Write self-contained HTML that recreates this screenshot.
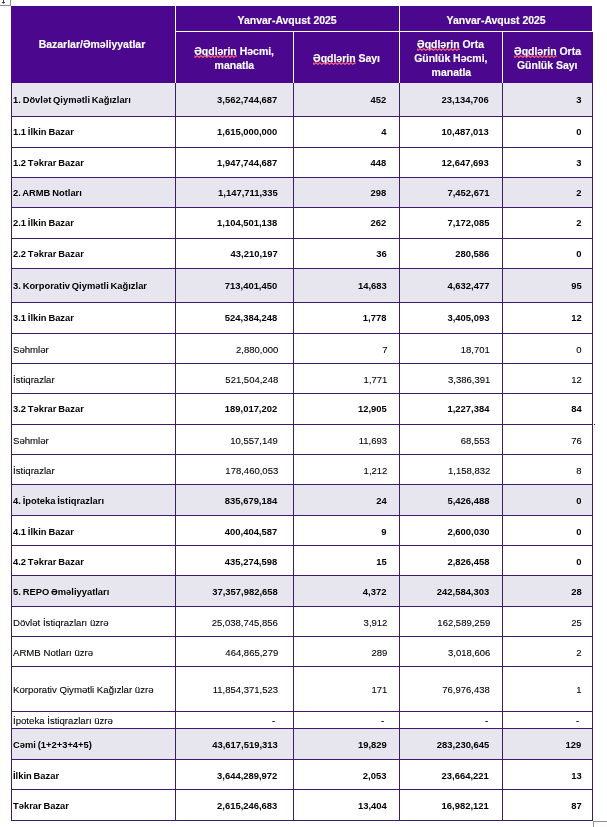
<!DOCTYPE html>
<html lang="az"><head><meta charset="utf-8"><title>Table</title><style>
html,body{margin:0;padding:0;background:#fff;}
body{will-change:transform;width:607px;height:827px;position:relative;overflow:hidden;font-family:"Liberation Sans",sans-serif;color:#000;}
.a{position:absolute;}
.hd{position:absolute;background:#4b088f;}
.sh{position:absolute;background:#e7e5ee;}
.hl{position:absolute;height:1px;background:#3d1a6b;}
.vl{position:absolute;width:1px;background:#3d1a6b;}
.t{position:absolute;white-space:nowrap;}
.t span{display:inline-block;}
.b{font-weight:bold;font-size:9.75px;}
.n{font-weight:normal;font-size:9.75px;-webkit-text-stroke:0.1px #000;}
.l span{transform-origin:0 50%;}
.r{text-align:right;}
.r span{transform-origin:100% 50%;}
.b.l span{transform:scaleX(0.96);word-spacing:-0.8px;}
.b.r span{transform:scaleX(0.967);}
.n.l span{transform:scaleX(0.986);}
.n.r span{transform:scaleX(0.975);}
.h{position:absolute;color:#fff;-webkit-text-stroke:0.15px #fff;font-weight:bold;font-size:10.8px;text-align:center;white-space:nowrap;}
.h>span{display:inline-block;transform:scaleX(0.97);transform-origin:50% 50%;}
.sq{position:relative;display:inline-block;}
.sq svg{position:absolute;left:0;top:11.2px;width:100%;height:3px;overflow:hidden;}
</style></head><body>
<div class="a" style="left:0;top:0;width:10px;height:5px;border-right:1px solid #8f8f8f;border-bottom:1px solid #8f8f8f;background:#fdfdfd"></div>
<div class="a" style="left:3px;top:0;width:1px;height:3px;background:#444"></div>
<div class="a" style="left:2px;top:2px;width:3px;height:1px;background:#444"></div>
<div class="a" style="left:3px;top:3px;width:1px;height:1px;background:#777"></div>
<div class="a" style="left:593px;top:821px;width:14px;height:6px;border-left:1px solid #8f8f8f;border-top:1px solid #8f8f8f;background:#fdfdfd"></div>
<div class="a" style="left:594px;top:424px;width:1px;height:1px;background:#111"></div>
<div class="hd" style="left:11px;top:6px;width:582px;height:77px"></div>
<div class="a" style="left:175px;top:6px;width:1px;height:77px;background:#ffffff"></div>
<div class="a" style="left:399px;top:6px;width:1px;height:77px;background:#ffffff"></div>
<div class="a" style="left:293px;top:31px;width:1px;height:52px;background:#ffffff"></div>
<div class="a" style="left:502px;top:31px;width:1px;height:52px;background:#ffffff"></div>
<div class="a" style="left:175px;top:31px;width:418px;height:1px;background:#ffffff"></div>
<div class="a" style="left:592px;top:6px;width:1px;height:26px;background:#ffffff"></div>
<div class="sh" style="left:11px;top:83px;width:581px;height:33px"></div>
<div class="sh" style="left:11px;top:178px;width:581px;height:29px"></div>
<div class="sh" style="left:11px;top:269px;width:581px;height:33px"></div>
<div class="sh" style="left:11px;top:485px;width:581px;height:30px"></div>
<div class="sh" style="left:11px;top:576px;width:581px;height:30px"></div>
<div class="sh" style="left:11px;top:729px;width:581px;height:30px"></div>
<div class="hl" style="left:11px;top:116px;width:582px"></div>
<div class="hl" style="left:11px;top:147px;width:582px"></div>
<div class="hl" style="left:11px;top:177px;width:582px"></div>
<div class="hl" style="left:11px;top:207px;width:582px"></div>
<div class="hl" style="left:11px;top:238px;width:582px"></div>
<div class="hl" style="left:11px;top:268px;width:582px"></div>
<div class="hl" style="left:11px;top:302px;width:582px"></div>
<div class="hl" style="left:11px;top:333px;width:582px"></div>
<div class="hl" style="left:11px;top:363px;width:582px"></div>
<div class="hl" style="left:11px;top:393px;width:582px"></div>
<div class="hl" style="left:11px;top:424px;width:582px"></div>
<div class="hl" style="left:11px;top:454px;width:582px"></div>
<div class="hl" style="left:11px;top:484px;width:582px"></div>
<div class="hl" style="left:11px;top:515px;width:582px"></div>
<div class="hl" style="left:11px;top:545px;width:582px"></div>
<div class="hl" style="left:11px;top:575px;width:582px"></div>
<div class="hl" style="left:11px;top:606px;width:582px"></div>
<div class="hl" style="left:11px;top:636px;width:582px"></div>
<div class="hl" style="left:11px;top:666px;width:582px"></div>
<div class="hl" style="left:11px;top:711px;width:582px"></div>
<div class="hl" style="left:11px;top:728px;width:582px"></div>
<div class="hl" style="left:11px;top:759px;width:582px"></div>
<div class="hl" style="left:11px;top:789px;width:582px"></div>
<div class="hl" style="left:11px;top:820px;width:582px"></div>
<div class="vl" style="left:11px;top:83px;height:738px"></div>
<div class="vl" style="left:175px;top:83px;height:738px"></div>
<div class="vl" style="left:293px;top:83px;height:738px"></div>
<div class="vl" style="left:399px;top:83px;height:738px"></div>
<div class="vl" style="left:502px;top:83px;height:738px"></div>
<div class="vl" style="left:592px;top:83px;height:738px"></div>
<div class="h" style="left:8.2px;width:167.8px;top:37.30px;height:14px;line-height:14px"><span>Bazarlar/Əməliyyatlar</span></div>
<div class="h" style="left:175px;width:225px;top:12.90px;height:14px;line-height:14px"><span>Yanvar-Avqust 2025</span></div>
<div class="h" style="left:399px;width:194px;top:12.90px;height:14px;line-height:14px"><span>Yanvar-Avqust 2025</span></div>
<div class="h" style="left:175px;width:119px;top:43.60px;height:14px;line-height:14px"><span><span class="sq">Əqdlərin<svg viewBox="0 0 60 3" preserveAspectRatio="xMinYMin slice"><path d="M0 0.5 L1 2.5 L3 0.5 L5 2.5 L7 0.5 L9 2.5 L11 0.5 L13 2.5 L15 0.5 L17 2.5 L19 0.5 L21 2.5 L23 0.5 L25 2.5 L27 0.5 L29 2.5 L31 0.5 L33 2.5 L35 0.5 L37 2.5 L39 0.5 L41 2.5 L43 0.5 L45 2.5 L47 0.5 L49 2.5 L51 0.5 L53 2.5 L55 0.5 L57 2.5 L59 0.5" fill="none" stroke="#f2607e" stroke-width="1.15"/></svg></span> Həcmi,</span></div>
<div class="h" style="left:175px;width:119px;top:57.60px;height:14px;line-height:14px"><span>manatla</span></div>
<div class="h" style="left:293px;width:107px;top:50.60px;height:14px;line-height:14px"><span><span class="sq">Əqdlərin<svg viewBox="0 0 60 3" preserveAspectRatio="xMinYMin slice"><path d="M0 0.5 L1 2.5 L3 0.5 L5 2.5 L7 0.5 L9 2.5 L11 0.5 L13 2.5 L15 0.5 L17 2.5 L19 0.5 L21 2.5 L23 0.5 L25 2.5 L27 0.5 L29 2.5 L31 0.5 L33 2.5 L35 0.5 L37 2.5 L39 0.5 L41 2.5 L43 0.5 L45 2.5 L47 0.5 L49 2.5 L51 0.5 L53 2.5 L55 0.5 L57 2.5 L59 0.5" fill="none" stroke="#f2607e" stroke-width="1.15"/></svg></span> Sayı</span></div>
<div class="h" style="left:399px;width:104px;top:36.60px;height:14px;line-height:14px"><span><span class="sq">Əqdlərin<svg viewBox="0 0 60 3" preserveAspectRatio="xMinYMin slice"><path d="M0 0.5 L1 2.5 L3 0.5 L5 2.5 L7 0.5 L9 2.5 L11 0.5 L13 2.5 L15 0.5 L17 2.5 L19 0.5 L21 2.5 L23 0.5 L25 2.5 L27 0.5 L29 2.5 L31 0.5 L33 2.5 L35 0.5 L37 2.5 L39 0.5 L41 2.5 L43 0.5 L45 2.5 L47 0.5 L49 2.5 L51 0.5 L53 2.5 L55 0.5 L57 2.5 L59 0.5" fill="none" stroke="#f2607e" stroke-width="1.15"/></svg></span> Orta</span></div>
<div class="h" style="left:399px;width:104px;top:50.60px;height:14px;line-height:14px"><span>Günlük Həcmi,</span></div>
<div class="h" style="left:399px;width:104px;top:64.60px;height:14px;line-height:14px"><span>manatla</span></div>
<div class="h" style="left:502px;width:91px;top:43.60px;height:14px;line-height:14px"><span><span class="sq">Əqdlərin<svg viewBox="0 0 60 3" preserveAspectRatio="xMinYMin slice"><path d="M0 0.5 L1 2.5 L3 0.5 L5 2.5 L7 0.5 L9 2.5 L11 0.5 L13 2.5 L15 0.5 L17 2.5 L19 0.5 L21 2.5 L23 0.5 L25 2.5 L27 0.5 L29 2.5 L31 0.5 L33 2.5 L35 0.5 L37 2.5 L39 0.5 L41 2.5 L43 0.5 L45 2.5 L47 0.5 L49 2.5 L51 0.5 L53 2.5 L55 0.5 L57 2.5 L59 0.5" fill="none" stroke="#f2607e" stroke-width="1.15"/></svg></span> Orta</span></div>
<div class="h" style="left:502px;width:91px;top:57.60px;height:14px;line-height:14px"><span>Günlük Sayı</span></div>
<div class="t b l" style="left:13.3px;top:83px;height:33px;line-height:33px"><span>1. Dövlət Qiymətli Kağızları</span></div>
<div class="t b r" style="left:175px;width:102.50px;top:83px;height:33px;line-height:33px"><span>3,562,744,687</span></div>
<div class="t b r" style="left:293px;width:93.60px;top:83px;height:33px;line-height:33px"><span>452</span></div>
<div class="t b r" style="left:399px;width:90.30px;top:83px;height:33px;line-height:33px"><span>23,134,706</span></div>
<div class="t b r" style="left:502px;width:79.60px;top:83px;height:33px;line-height:33px"><span>3</span></div>
<div class="t b l" style="left:13.3px;top:117px;height:30px;line-height:30px"><span>1.1 İlkin Bazar</span></div>
<div class="t b r" style="left:175px;width:102.50px;top:117px;height:30px;line-height:30px"><span>1,615,000,000</span></div>
<div class="t b r" style="left:293px;width:93.60px;top:117px;height:30px;line-height:30px"><span>4</span></div>
<div class="t b r" style="left:399px;width:90.30px;top:117px;height:30px;line-height:30px"><span>10,487,013</span></div>
<div class="t b r" style="left:502px;width:79.60px;top:117px;height:30px;line-height:30px"><span>0</span></div>
<div class="t b l" style="left:13.3px;top:148px;height:29px;line-height:29px"><span>1.2 Təkrar Bazar</span></div>
<div class="t b r" style="left:175px;width:102.50px;top:148px;height:29px;line-height:29px"><span>1,947,744,687</span></div>
<div class="t b r" style="left:293px;width:93.60px;top:148px;height:29px;line-height:29px"><span>448</span></div>
<div class="t b r" style="left:399px;width:90.30px;top:148px;height:29px;line-height:29px"><span>12,647,693</span></div>
<div class="t b r" style="left:502px;width:79.60px;top:148px;height:29px;line-height:29px"><span>3</span></div>
<div class="t b l" style="left:13.3px;top:178px;height:29px;line-height:29px"><span>2. ARMB Notları</span></div>
<div class="t b r" style="left:175px;width:102.50px;top:178px;height:29px;line-height:29px"><span>1,147,711,335</span></div>
<div class="t b r" style="left:293px;width:93.60px;top:178px;height:29px;line-height:29px"><span>298</span></div>
<div class="t b r" style="left:399px;width:90.30px;top:178px;height:29px;line-height:29px"><span>7,452,671</span></div>
<div class="t b r" style="left:502px;width:79.60px;top:178px;height:29px;line-height:29px"><span>2</span></div>
<div class="t b l" style="left:13.3px;top:208px;height:30px;line-height:30px"><span>2.1 İlkin Bazar</span></div>
<div class="t b r" style="left:175px;width:102.50px;top:208px;height:30px;line-height:30px"><span>1,104,501,138</span></div>
<div class="t b r" style="left:293px;width:93.60px;top:208px;height:30px;line-height:30px"><span>262</span></div>
<div class="t b r" style="left:399px;width:90.30px;top:208px;height:30px;line-height:30px"><span>7,172,085</span></div>
<div class="t b r" style="left:502px;width:79.60px;top:208px;height:30px;line-height:30px"><span>2</span></div>
<div class="t b l" style="left:13.3px;top:239px;height:29px;line-height:29px"><span>2.2 Təkrar Bazar</span></div>
<div class="t b r" style="left:175px;width:102.50px;top:239px;height:29px;line-height:29px"><span>43,210,197</span></div>
<div class="t b r" style="left:293px;width:93.60px;top:239px;height:29px;line-height:29px"><span>36</span></div>
<div class="t b r" style="left:399px;width:90.30px;top:239px;height:29px;line-height:29px"><span>280,586</span></div>
<div class="t b r" style="left:502px;width:79.60px;top:239px;height:29px;line-height:29px"><span>0</span></div>
<div class="t b l" style="left:13.3px;top:269px;height:33px;line-height:33px"><span>3. Korporativ Qiymətli Kağızlar</span></div>
<div class="t b r" style="left:175px;width:102.50px;top:269px;height:33px;line-height:33px"><span>713,401,450</span></div>
<div class="t b r" style="left:293px;width:93.60px;top:269px;height:33px;line-height:33px"><span>14,683</span></div>
<div class="t b r" style="left:399px;width:90.30px;top:269px;height:33px;line-height:33px"><span>4,632,477</span></div>
<div class="t b r" style="left:502px;width:79.60px;top:269px;height:33px;line-height:33px"><span>95</span></div>
<div class="t b l" style="left:13.3px;top:303px;height:30px;line-height:30px"><span>3.1 İlkin Bazar</span></div>
<div class="t b r" style="left:175px;width:102.50px;top:303px;height:30px;line-height:30px"><span>524,384,248</span></div>
<div class="t b r" style="left:293px;width:93.60px;top:303px;height:30px;line-height:30px"><span>1,778</span></div>
<div class="t b r" style="left:399px;width:90.30px;top:303px;height:30px;line-height:30px"><span>3,405,093</span></div>
<div class="t b r" style="left:502px;width:79.60px;top:303px;height:30px;line-height:30px"><span>12</span></div>
<div class="t n l" style="left:13.3px;top:334.8px;height:29px;line-height:29px"><span>Səhmlər</span></div>
<div class="t n r" style="left:175px;width:103.20px;top:334.8px;height:29px;line-height:29px"><span>2,880,000</span></div>
<div class="t n r" style="left:293px;width:94.10px;top:334.8px;height:29px;line-height:29px"><span>7</span></div>
<div class="t n r" style="left:399px;width:91.30px;top:334.8px;height:29px;line-height:29px"><span>18,701</span></div>
<div class="t n r" style="left:502px;width:79.60px;top:334.8px;height:29px;line-height:29px"><span>0</span></div>
<div class="t n l" style="left:13.3px;top:364.8px;height:29px;line-height:29px"><span>İstiqrazlar</span></div>
<div class="t n r" style="left:175px;width:103.20px;top:364.8px;height:29px;line-height:29px"><span>521,504,248</span></div>
<div class="t n r" style="left:293px;width:94.10px;top:364.8px;height:29px;line-height:29px"><span>1,771</span></div>
<div class="t n r" style="left:399px;width:91.30px;top:364.8px;height:29px;line-height:29px"><span>3,386,391</span></div>
<div class="t n r" style="left:502px;width:79.60px;top:364.8px;height:29px;line-height:29px"><span>12</span></div>
<div class="t b l" style="left:13.3px;top:394px;height:30px;line-height:30px"><span>3.2 Təkrar Bazar</span></div>
<div class="t b r" style="left:175px;width:102.50px;top:394px;height:30px;line-height:30px"><span>189,017,202</span></div>
<div class="t b r" style="left:293px;width:93.60px;top:394px;height:30px;line-height:30px"><span>12,905</span></div>
<div class="t b r" style="left:399px;width:90.30px;top:394px;height:30px;line-height:30px"><span>1,227,384</span></div>
<div class="t b r" style="left:502px;width:79.60px;top:394px;height:30px;line-height:30px"><span>84</span></div>
<div class="t n l" style="left:13.3px;top:425.8px;height:29px;line-height:29px"><span>Səhmlər</span></div>
<div class="t n r" style="left:175px;width:103.20px;top:425.8px;height:29px;line-height:29px"><span>10,557,149</span></div>
<div class="t n r" style="left:293px;width:94.10px;top:425.8px;height:29px;line-height:29px"><span>11,693</span></div>
<div class="t n r" style="left:399px;width:91.30px;top:425.8px;height:29px;line-height:29px"><span>68,553</span></div>
<div class="t n r" style="left:502px;width:79.60px;top:425.8px;height:29px;line-height:29px"><span>76</span></div>
<div class="t n l" style="left:13.3px;top:455.8px;height:29px;line-height:29px"><span>İstiqrazlar</span></div>
<div class="t n r" style="left:175px;width:103.20px;top:455.8px;height:29px;line-height:29px"><span>178,460,053</span></div>
<div class="t n r" style="left:293px;width:94.10px;top:455.8px;height:29px;line-height:29px"><span>1,212</span></div>
<div class="t n r" style="left:399px;width:91.30px;top:455.8px;height:29px;line-height:29px"><span>1,158,832</span></div>
<div class="t n r" style="left:502px;width:79.60px;top:455.8px;height:29px;line-height:29px"><span>8</span></div>
<div class="t b l" style="left:13.3px;top:486px;height:30px;line-height:30px"><span>4. İpoteka İstiqrazları</span></div>
<div class="t b r" style="left:175px;width:102.50px;top:486px;height:30px;line-height:30px"><span>835,679,184</span></div>
<div class="t b r" style="left:293px;width:93.60px;top:486px;height:30px;line-height:30px"><span>24</span></div>
<div class="t b r" style="left:399px;width:90.30px;top:486px;height:30px;line-height:30px"><span>5,426,488</span></div>
<div class="t b r" style="left:502px;width:79.60px;top:486px;height:30px;line-height:30px"><span>0</span></div>
<div class="t b l" style="left:13.3px;top:517px;height:29px;line-height:29px"><span>4.1 İlkin Bazar</span></div>
<div class="t b r" style="left:175px;width:102.50px;top:517px;height:29px;line-height:29px"><span>400,404,587</span></div>
<div class="t b r" style="left:293px;width:93.60px;top:517px;height:29px;line-height:29px"><span>9</span></div>
<div class="t b r" style="left:399px;width:90.30px;top:517px;height:29px;line-height:29px"><span>2,600,030</span></div>
<div class="t b r" style="left:502px;width:79.60px;top:517px;height:29px;line-height:29px"><span>0</span></div>
<div class="t b l" style="left:13.3px;top:547px;height:29px;line-height:29px"><span>4.2 Təkrar Bazar</span></div>
<div class="t b r" style="left:175px;width:102.50px;top:547px;height:29px;line-height:29px"><span>435,274,598</span></div>
<div class="t b r" style="left:293px;width:93.60px;top:547px;height:29px;line-height:29px"><span>15</span></div>
<div class="t b r" style="left:399px;width:90.30px;top:547px;height:29px;line-height:29px"><span>2,826,458</span></div>
<div class="t b r" style="left:502px;width:79.60px;top:547px;height:29px;line-height:29px"><span>0</span></div>
<div class="t b l" style="left:13.3px;top:577px;height:30px;line-height:30px"><span>5. REPO Əməliyyatları</span></div>
<div class="t b r" style="left:175px;width:102.50px;top:577px;height:30px;line-height:30px"><span>37,357,982,658</span></div>
<div class="t b r" style="left:293px;width:93.60px;top:577px;height:30px;line-height:30px"><span>4,372</span></div>
<div class="t b r" style="left:399px;width:90.30px;top:577px;height:30px;line-height:30px"><span>242,584,303</span></div>
<div class="t b r" style="left:502px;width:79.60px;top:577px;height:30px;line-height:30px"><span>28</span></div>
<div class="t n l" style="left:13.3px;top:607.8px;height:29px;line-height:29px"><span>Dövlət İstiqrazları üzrə</span></div>
<div class="t n r" style="left:175px;width:103.20px;top:607.8px;height:29px;line-height:29px"><span>25,038,745,856</span></div>
<div class="t n r" style="left:293px;width:94.10px;top:607.8px;height:29px;line-height:29px"><span>3,912</span></div>
<div class="t n r" style="left:399px;width:91.30px;top:607.8px;height:29px;line-height:29px"><span>162,589,259</span></div>
<div class="t n r" style="left:502px;width:79.60px;top:607.8px;height:29px;line-height:29px"><span>25</span></div>
<div class="t n l" style="left:13.3px;top:637.8px;height:29px;line-height:29px"><span>ARMB Notları üzrə</span></div>
<div class="t n r" style="left:175px;width:103.20px;top:637.8px;height:29px;line-height:29px"><span>464,865,279</span></div>
<div class="t n r" style="left:293px;width:94.10px;top:637.8px;height:29px;line-height:29px"><span>289</span></div>
<div class="t n r" style="left:399px;width:91.30px;top:637.8px;height:29px;line-height:29px"><span>3,018,606</span></div>
<div class="t n r" style="left:502px;width:79.60px;top:637.8px;height:29px;line-height:29px"><span>2</span></div>
<div class="t n l" style="left:13.3px;top:667.8px;height:44px;line-height:44px"><span>Korporativ Qiymətli Kağızlar üzrə</span></div>
<div class="t n r" style="left:175px;width:103.20px;top:667.8px;height:44px;line-height:44px"><span>11,854,371,523</span></div>
<div class="t n r" style="left:293px;width:94.10px;top:667.8px;height:44px;line-height:44px"><span>171</span></div>
<div class="t n r" style="left:399px;width:91.30px;top:667.8px;height:44px;line-height:44px"><span>76,976,438</span></div>
<div class="t n r" style="left:502px;width:79.60px;top:667.8px;height:44px;line-height:44px"><span>1</span></div>
<div class="t n l" style="left:13.3px;top:712.8px;height:16px;line-height:16px"><span>İpoteka İstiqrazları üzrə</span></div>
<div class="t n r" style="left:175px;width:100.70px;top:712.8px;height:16px;line-height:16px"><span>-</span></div>
<div class="t n r" style="left:293px;width:91.60px;top:712.8px;height:16px;line-height:16px"><span>-</span></div>
<div class="t n r" style="left:399px;width:88.80px;top:712.8px;height:16px;line-height:16px"><span>-</span></div>
<div class="t n r" style="left:502px;width:77.10px;top:712.8px;height:16px;line-height:16px"><span>-</span></div>
<div class="t b l" style="left:13.3px;top:730px;height:30px;line-height:30px"><span>Cəmi (1+2+3+4+5)</span></div>
<div class="t b r" style="left:175px;width:102.50px;top:730px;height:30px;line-height:30px"><span>43,617,519,313</span></div>
<div class="t b r" style="left:293px;width:93.60px;top:730px;height:30px;line-height:30px"><span>19,829</span></div>
<div class="t b r" style="left:399px;width:90.30px;top:730px;height:30px;line-height:30px"><span>283,230,645</span></div>
<div class="t b r" style="left:502px;width:79.60px;top:730px;height:30px;line-height:30px"><span>129</span></div>
<div class="t b l" style="left:13.3px;top:761px;height:29px;line-height:29px"><span>İlkin Bazar</span></div>
<div class="t b r" style="left:175px;width:102.50px;top:761px;height:29px;line-height:29px"><span>3,644,289,972</span></div>
<div class="t b r" style="left:293px;width:93.60px;top:761px;height:29px;line-height:29px"><span>2,053</span></div>
<div class="t b r" style="left:399px;width:90.30px;top:761px;height:29px;line-height:29px"><span>23,664,221</span></div>
<div class="t b r" style="left:502px;width:79.60px;top:761px;height:29px;line-height:29px"><span>13</span></div>
<div class="t b l" style="left:13.3px;top:791px;height:30px;line-height:30px"><span>Təkrar Bazar</span></div>
<div class="t b r" style="left:175px;width:102.50px;top:791px;height:30px;line-height:30px"><span>2,615,246,683</span></div>
<div class="t b r" style="left:293px;width:93.60px;top:791px;height:30px;line-height:30px"><span>13,404</span></div>
<div class="t b r" style="left:399px;width:90.30px;top:791px;height:30px;line-height:30px"><span>16,982,121</span></div>
<div class="t b r" style="left:502px;width:79.60px;top:791px;height:30px;line-height:30px"><span>87</span></div>
</body></html>
